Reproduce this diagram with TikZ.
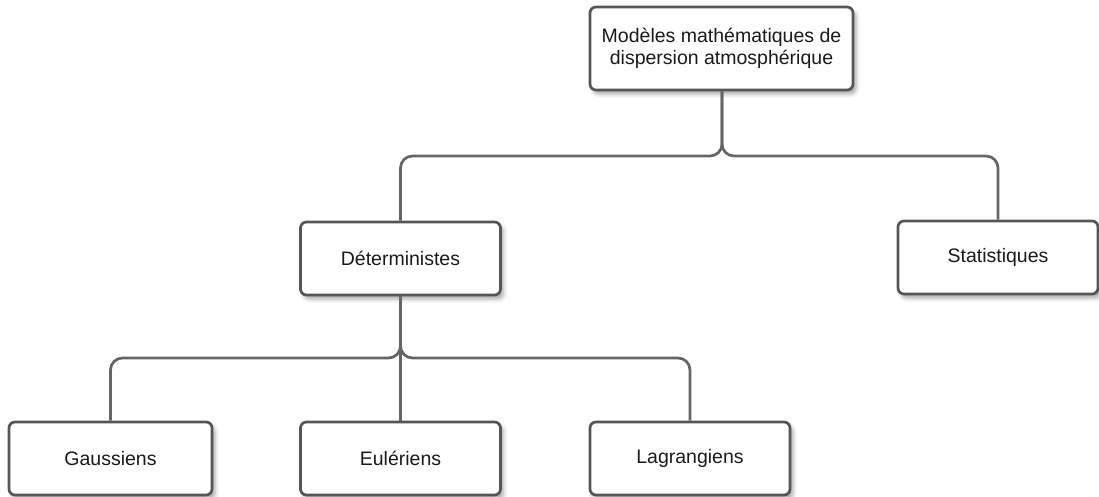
\documentclass[tikz,border=0pt]{standalone}
\usepackage{fontspec}
\setmainfont{Liberation Sans}
\usetikzlibrary{shadows.blur}
\definecolor{boxline}{HTML}{555555}
\definecolor{connline}{HTML}{656565}
\definecolor{txt}{HTML}{1A1A1A}
\begin{document}
\begin{tikzpicture}[x=1pt,y=-1pt,
  box/.style={draw=boxline, line width=2.7pt, rounded corners=6pt, fill=white,
    minimum width=200pt, minimum height=73pt, inner sep=0pt, align=center,
    text=txt, font=\fontsize{19.5}{22}\selectfont,
    blur shadow={shadow xshift=3pt, shadow yshift=-4pt, shadow blur radius=4pt, shadow opacity=35}},
  conn/.style={draw=connline, line width=2.7pt, rounded corners=12pt}]
\useasboundingbox (0,0) rectangle (1099,497);
\node[box, minimum width=263pt, minimum height=83pt] (top) at (721.5,48.5) {Modèles mathématiques de\\dispersion atmosphérique};
\node[box] (det) at (400.5,258.5) {Déterministes};
\node[box] (stat) at (998,257.5) {Statistiques};
\node[box, minimum width=203pt] (gau) at (110.5,458.5) {Gaussiens};
\node[box] (eul) at (400.5,458.5) {Eulériens};
\node[box] (lag) at (690,458.5) {Lagrangiens};
\coordinate (j1) at (722,156);
\coordinate (j2) at (400.5,358);
\draw[conn] (top.south -| j1) -- (j1) -- (j1 -| det.north) -- (det.north);
\draw[conn] (top.south -| j1) -- (j1) -- (j1 -| stat.north) -- (stat.north);
\draw[conn] (det.south) -- (j2) -- (j2 -| gau.north) -- (gau.north);
\draw[conn] (det.south) -- (j2) -- (j2 -| lag.north) -- (lag.north);
\draw[conn] (det.south) -- (eul.north);
\end{tikzpicture}
\end{document}
